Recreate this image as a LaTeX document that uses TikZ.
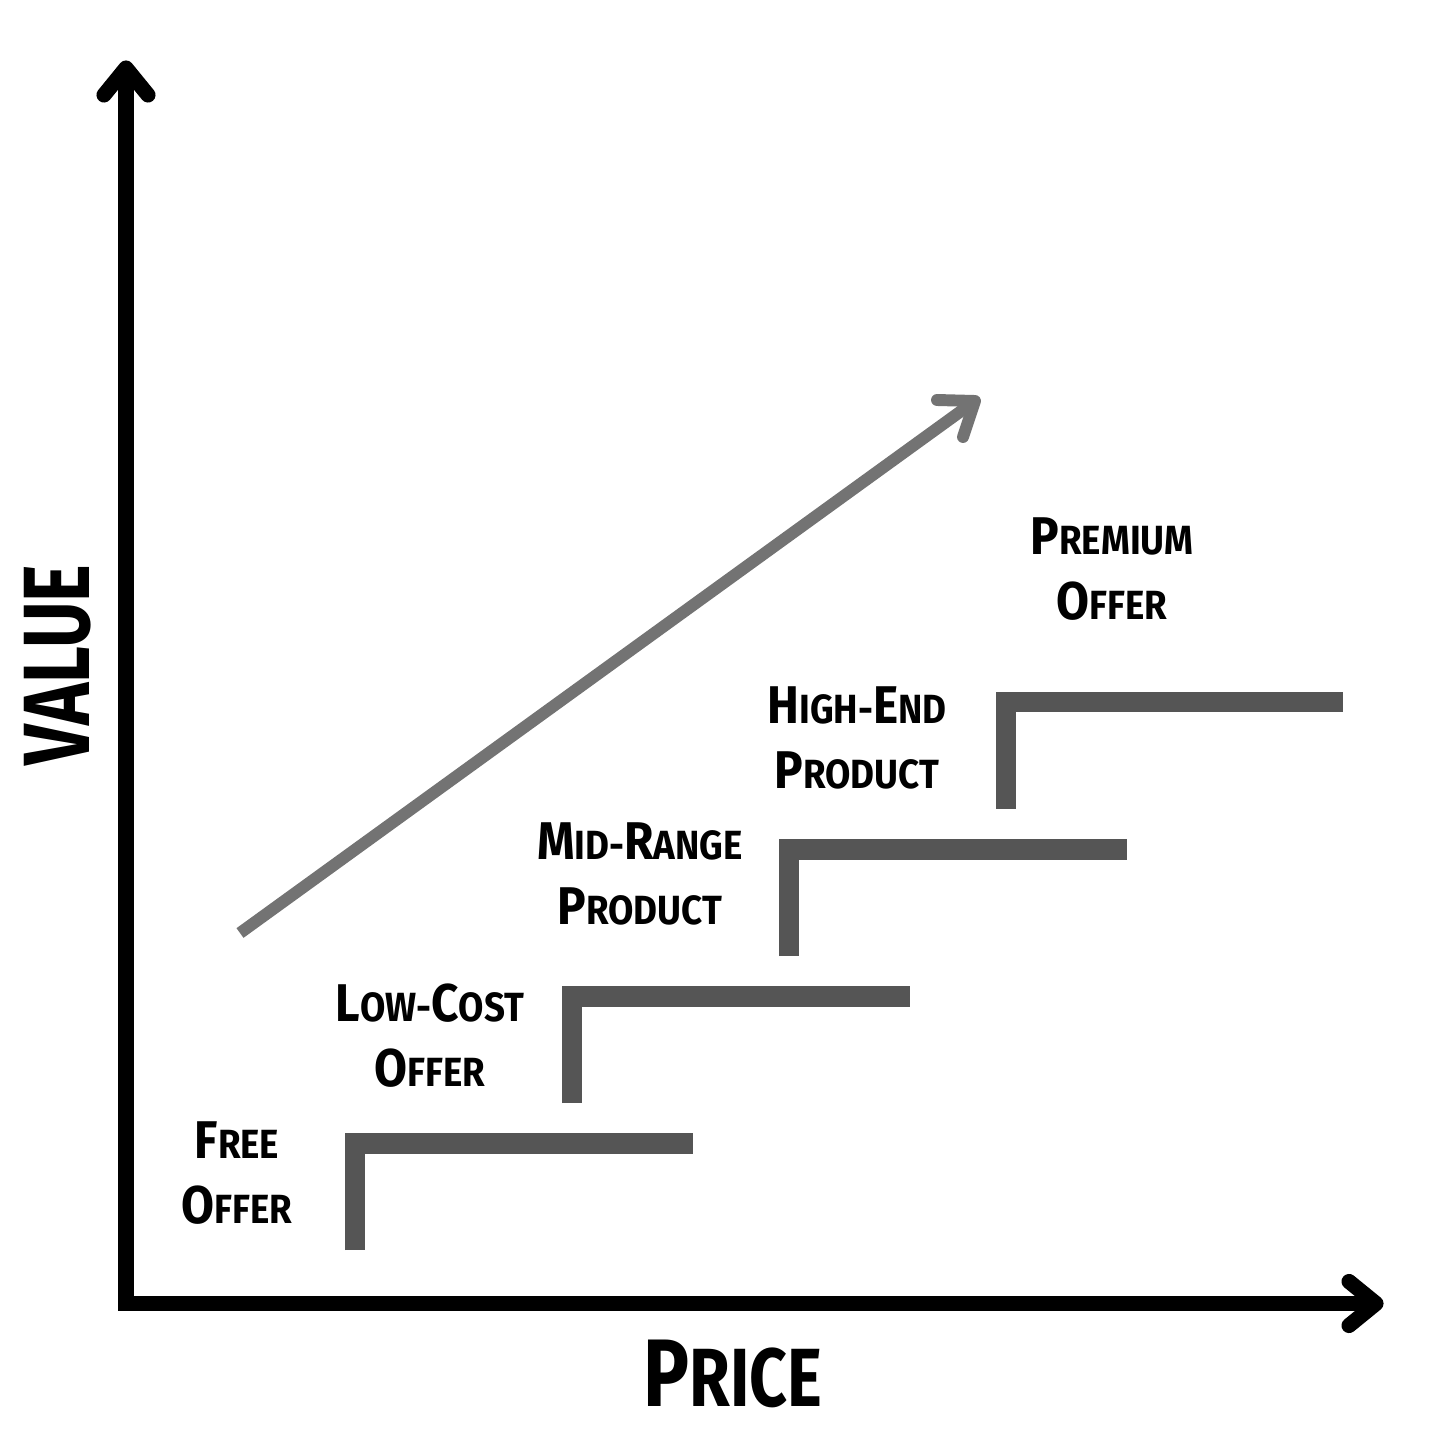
\documentclass[tikz,border=0pt]{standalone}
\usepackage{fontspec}
\setmainfont{Fira Sans}
\definecolor{stepgray}{HTML}{555555}
\definecolor{risegray}{HTML}{737373}
\newcommand{\up}[1]{{\fontsize{15.1}{18.5}\selectfont #1}}
\tikzset{
  axisline/.style={line width=4.3pt, black},
  axishead/.style={axisline, line cap=round, line join=round},
  stepline/.style={line width=5.7pt, stepgray, line join=miter},
  riseline/.style={line width=3.4pt, risegray},
  steplabel/.style={align=center, inner sep=0pt, font=\bfseries\fontsize{11.6}{18.5}\selectfont, xscale=0.9, transform shape}
}

\begin{document}
\begin{tikzpicture}[x=0.1mm, y=-0.1mm]
				%%%%% AXES %%%%%
				\useasboundingbox (0,0) rectangle (1440,1440);
				
				\draw[axisline] (126,68) -- (126,1303.5) -- (1376,1303.5);
				\draw[axishead] (104,95) -- (126,68) -- (148,95);
				\draw[axishead] (1349,1281.5) -- (1376,1303.5) -- (1349,1325.5);
				
				\node[inner sep=0pt, rotate=90] (value) at (57.5,665) {\scalebox{0.76}[1]{\bfseries\fontsize{26.8}{30}\selectfont VALUE}};
				\node[inner sep=0pt] (price) at (733,1374) {\scalebox{0.8}[1]{\bfseries{\fontsize{27.3}{30}\selectfont P}{\fontsize{23.5}{28}\selectfont RICE}}};
				
				%%%%% RISING ARROW %%%%%
				\draw[riseline] (240,933) -- (975,401);
				\draw[riseline, line cap=round, line join=round] (937,400) -- (975,401) -- (963,437);
				
				%%%%% STEPS %%%%%
				\draw[stepline] (355,1250) -- (355,1143.5) -- (692.5,1143.5);
				\draw[stepline] (572,1103) -- (572,996.5) -- (909.5,996.5);
				\draw[stepline] (789,956) -- (789,849.5) -- (1126.5,849.5);
				\draw[stepline] (1005.5,808.5) -- (1005.5,702) -- (1343,702);
				
				\node[steplabel] (free) at (237,1173.5) {\up{F}REE\\\up{O}FFER};
				\node[steplabel] (lowcost) at (430,1036) {\up{L}OW-\up{C}OST\\\up{O}FFER};
				\node[steplabel] (midrange) at (640,873.5) {\up{M}ID-\up{R}ANGE\\\up{P}RODUCT};
				\node[steplabel] (highend) at (857,738) {\up{H}IGH-\up{E}ND\\\up{P}RODUCT};
				\node[steplabel] (premium) at (1112,569.5) {\up{P}REMIUM\\\up{O}FFER};
				%%%%% END %%%%%
\end{tikzpicture}
\end{document}
